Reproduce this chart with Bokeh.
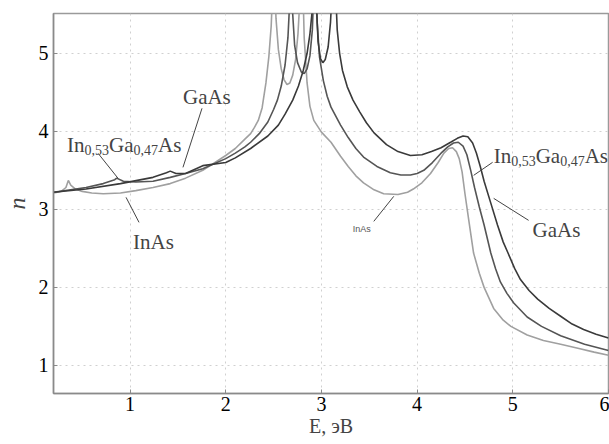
from bokeh.plotting import figure
from bokeh.models import Label, Range1d, FixedTicker
from bokeh.embed import file_html
from bokeh.resources import INLINE

# ---- data ----
inas_E = [0.20, 0.28, 0.33, 0.355, 0.38, 0.43, 0.50, 0.60, 0.72, 0.90, 1.06, 1.24, 1.42, 1.58, 1.76,
          2.00, 2.10, 2.20, 2.26, 2.30, 2.34, 2.38, 2.42, 2.45, 2.475, 2.49, 2.50, 2.51, 2.525, 2.55,
          2.58, 2.61, 2.64, 2.67, 2.70, 2.73, 2.755, 2.775, 2.79, 2.805, 2.82, 2.85, 2.88, 2.92, 3.00,
          3.10, 3.20, 3.28, 3.36, 3.44, 3.55, 3.65, 3.80, 3.90, 3.96, 4.05, 4.14, 4.22, 4.28, 4.33,
          4.37, 4.41, 4.44, 4.47, 4.50, 4.54, 4.59, 4.65, 4.70, 4.80, 4.90, 4.98, 5.15, 5.32, 5.50,
          5.68, 5.85, 6.00]
inas_n = [3.21, 3.23, 3.28, 3.37, 3.31, 3.26, 3.23, 3.21, 3.20, 3.21, 3.24, 3.28, 3.33, 3.40, 3.50,
          3.69, 3.78, 3.90, 3.97, 4.05, 4.14, 4.30, 4.62, 4.95, 5.35, 5.80, 6.50, 6.00, 5.45, 5.05,
          4.80, 4.66, 4.60, 4.62, 4.72, 4.92, 5.25, 5.70, 6.50, 5.90, 5.20, 4.62, 4.32, 4.14, 3.99,
          3.86, 3.68, 3.55, 3.43, 3.34, 3.25, 3.20, 3.19, 3.22, 3.26, 3.34, 3.46, 3.60, 3.72, 3.78,
          3.79, 3.74, 3.65, 3.48, 3.20, 2.86, 2.44, 2.18, 2.00, 1.73, 1.58, 1.50, 1.39, 1.32, 1.27,
          1.22, 1.17, 1.13]

ingaas_E = [0.20, 0.54, 0.72, 0.84, 0.86, 0.93, 1.06, 1.24, 1.42, 1.58, 1.76, 2.00, 2.10, 2.20, 2.26,
            2.35, 2.44, 2.50, 2.54, 2.58, 2.62, 2.65, 2.67, 2.68, 2.69, 2.70, 2.72, 2.75, 2.79, 2.82,
            2.85, 2.88, 2.905, 2.92, 2.93, 2.94, 2.955, 2.98, 3.02, 3.06, 3.10, 3.20, 3.28, 3.36, 3.44,
            3.58, 3.72, 3.83, 3.93, 4.00, 4.07, 4.16, 4.25, 4.32, 4.38, 4.43, 4.48, 4.52, 4.56, 4.60,
            4.65, 4.70, 4.77, 4.82, 4.87, 4.94, 5.01, 5.15, 5.30, 5.50, 5.75, 6.00]
ingaas_n = [3.22, 3.28, 3.33, 3.38, 3.40, 3.36, 3.35, 3.36, 3.41, 3.46, 3.52, 3.65, 3.72, 3.80, 3.86,
            3.97, 4.12, 4.28, 4.40, 4.58, 4.85, 5.20, 5.70, 6.50, 6.00, 5.50, 5.10, 4.88, 4.76, 4.74,
            4.80, 4.97, 5.30, 5.80, 6.50, 6.00, 5.40, 4.95, 4.65, 4.45, 4.31, 4.08, 3.92, 3.78, 3.67,
            3.55, 3.47, 3.44, 3.44, 3.46, 3.50, 3.60, 3.72, 3.80, 3.85, 3.86, 3.81, 3.70, 3.50, 3.28,
            3.03, 2.80, 2.44, 2.24, 2.07, 1.92, 1.80, 1.62, 1.50, 1.38, 1.27, 1.19]

gaas_E = [0.20, 0.54, 0.90, 1.24, 1.38, 1.42, 1.48, 1.58, 1.76, 2.00, 2.10, 2.26, 2.44, 2.55, 2.62,
          2.70, 2.76, 2.81, 2.85, 2.88, 2.90, 2.93, 2.945, 2.965, 2.99, 3.015, 3.04, 3.07, 3.095, 3.115,
          3.13, 3.145, 3.165, 3.19, 3.22, 3.27, 3.33, 3.40, 3.47, 3.55, 3.68, 3.80, 3.93, 4.05, 4.15,
          4.25, 4.35, 4.42, 4.48, 4.53, 4.58, 4.62, 4.66, 4.70, 4.77, 4.84, 4.90, 4.95, 5.02, 5.08,
          5.17, 5.26, 5.38, 5.50, 5.62, 5.74, 5.87, 6.00]
gaas_n = [3.22, 3.26, 3.33, 3.41, 3.47, 3.49, 3.46, 3.46, 3.56, 3.60, 3.66, 3.78, 3.94, 4.08, 4.22,
          4.40, 4.58, 4.78, 5.00, 5.25, 5.50, 6.50, 5.70, 5.15, 4.93, 4.88, 4.92, 5.08, 5.40, 5.90,
          6.50, 5.90, 5.30, 5.00, 4.78, 4.57, 4.40, 4.25, 4.11, 3.98, 3.83, 3.74, 3.69, 3.70, 3.74,
          3.79, 3.86, 3.91, 3.94, 3.93, 3.85, 3.72, 3.55, 3.36, 3.08, 2.80, 2.58, 2.44, 2.24, 2.10,
          1.96, 1.85, 1.73, 1.63, 1.53, 1.46, 1.40, 1.35]

x_ticks = [1, 2, 3, 4, 5, 6]
y_ticks = [1, 2, 3, 4, 5]

SERIF = "Liberation Serif"

p = figure(width=609, height=444, output_backend="svg", toolbar_location=None,
           x_range=Range1d(0.2, 6.0), y_range=Range1d(0.64, 5.51),
           min_border_left=52, min_border_right=1, min_border_top=13, min_border_bottom=51)
p.background_fill_color = "white"
p.outline_line_color = "#9a9a9a"
p.outline_line_width = 1.5

for ax in (p.xaxis[0], p.yaxis[0]):
    ax.axis_line_color = "#8a8a8a"
    ax.axis_line_width = 1.5
    ax.major_tick_line_color = "#8a8a8a"
    ax.major_tick_in = 4
    ax.major_tick_out = 0
    ax.minor_tick_line_color = None
    ax.major_label_text_font = SERIF
    ax.major_label_text_font_size = "20px"
    ax.major_label_text_color = "black"

p.xaxis.ticker = FixedTicker(ticks=x_ticks)
p.yaxis.ticker = FixedTicker(ticks=y_ticks)
p.xaxis.major_label_standoff = 3
p.yaxis.major_label_standoff = 5
p.xaxis.axis_label = "E, эВ"
p.xaxis.axis_label_text_font = SERIF
p.xaxis.axis_label_text_font_style = "normal"
p.xaxis.axis_label_text_font_size = "20px"
p.xaxis.axis_label_standoff = 1
p.yaxis.axis_label = "n"
p.yaxis.axis_label_text_font = SERIF
p.yaxis.axis_label_text_font_style = "italic"
p.yaxis.axis_label_text_font_size = "24px"
p.yaxis.axis_label_standoff = 6

p.grid.grid_line_color = "#d0d0d0"
p.grid.grid_line_dash = "dotted"
p.grid.grid_line_width = 1

p.line(inas_E, inas_n, line_color="#a0a0a0", line_width=1.6)
p.line(ingaas_E, ingaas_n, line_color="#555555", line_width=1.6)
p.line(gaas_E, gaas_n, line_color="#3a3a3a", line_width=1.6)

W = {"I": .333, "n": .5, "G": .722, "a": .444, "A": .722, "s": .389, ",": .25}


def wid(t, size):
    return sum(W.get(c, .5) for c in t) * size


def rich(x, y, parts, size=21, sub=14):
    off = 0.0
    for t, is_sub in parts:
        s = sub if is_sub else size
        p.add_layout(Label(x=x, y=y, x_offset=off, y_offset=-5 if is_sub else 0, text=t,
                           text_font=SERIF, text_font_size=f"{s}px", text_baseline="alphabetic"))
        off += wid(t, s)


ingaas_parts = [("In", False), ("0,53", True), ("Ga", False), ("0,47", True), ("As", False)]
rich(0.342, 3.82, ingaas_parts)
rich(4.80, 3.68, ingaas_parts)
rich(1.553, 4.436, [("GaAs", False)])
rich(5.207, 2.73, [("GaAs", False)])
rich(1.031, 2.577, [("InAs", False)])
p.add_layout(Label(x=3.328, y=2.744, text="InAs", text_font="Liberation Sans",
                   text_font_size="9px", text_color="#555555", text_baseline="alphabetic"))

# leader lines
leaders = [((1.752, 4.295), (1.553, 3.538)),
           ((0.666, 3.718), (0.875, 3.397)),
           ((0.958, 3.154), (1.094, 2.833)),
           ((3.547, 2.846), (3.756, 3.167)),
           ((4.789, 3.603), (4.591, 3.436)),
           ((4.80, 3.141), (5.165, 2.859))]
for (x0, y0), (x1, y1) in leaders:
    p.line([x0, x1], [y0, y1], line_color="#444444", line_width=1)

open("out.html", "w").write(file_html(p, INLINE))
